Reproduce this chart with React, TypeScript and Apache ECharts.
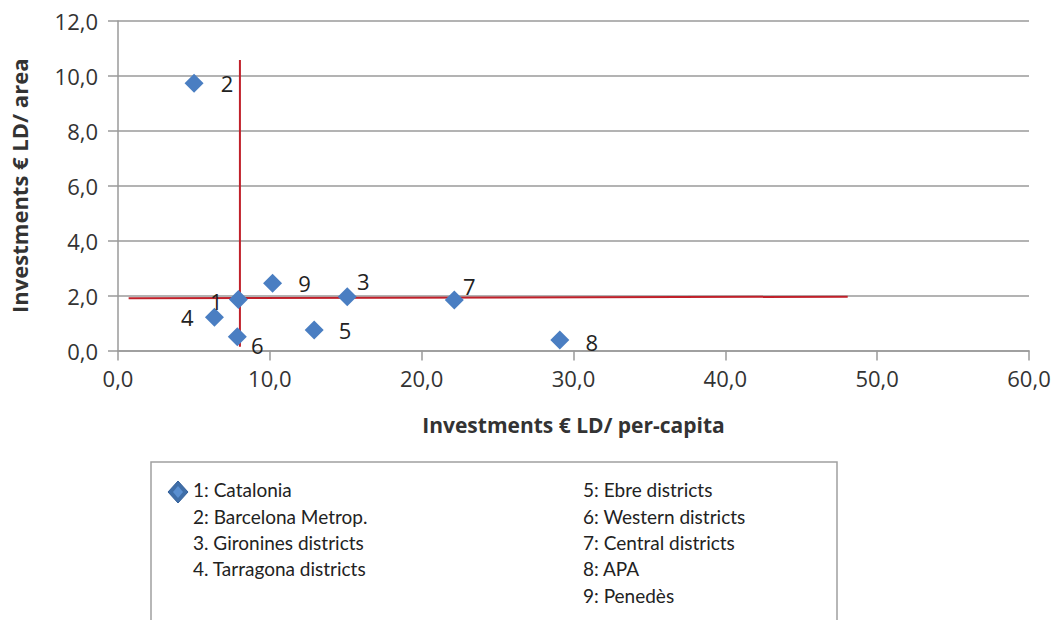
import React, { useEffect, useRef } from "react";
import * as echarts from "echarts";

const pointLabels = ["1", "2", "3", "4", "5", "6", "7", "8", "9"];
const xValues = [7.93, 5.01, 15.1, 6.35, 12.92, 7.86, 22.15, 29.1, 10.18];
const yValues = [1.86, 9.73, 1.96, 1.21, 0.75, 0.5, 1.84, 0.38, 2.45];
const labelOffsets = [[-22, 2], [33, 0], [16, -16], [-27, 0], [31, 0], [20, 8], [15, -14], [32, 2], [32, 0]];

const verticalLine = [[8.03, 0.14], [8.03, 10.58]];
const horizontalLine = [[0.7, 1.9], [48.06, 1.96]];

const legendCol1 = ["1: Catalonia", "2: Barcelona Metrop.", "3. Gironines districts", "4. Tarragona districts"];
const legendCol2 = ["5: Ebre districts", "6: Western districts", "7: Central districts", "8: APA", "9: Penedès"];

const fmt = (v: number) => v.toFixed(1).replace(".", ",");

export default function App() {
  const ref = useRef<HTMLDivElement>(null);
  useEffect(() => {
    document.body.style.margin = "0";
    const chart = echarts.init(ref.current!, null, { renderer: "svg" });
    const font = "'Open Sans', sans-serif";
    const legendFont = "Lato, sans-serif";
    const legendTexts: any[] = [];
    const rowY = [492, 519, 545, 571, 598];
    legendCol1.forEach((t, i) =>
      legendTexts.push({
        type: "text",
        left: 193,
        top: rowY[i] - 12,
        style: { text: t, font: `19px ${legendFont}`, fill: "#222" },
      })
    );
    legendCol2.forEach((t, i) =>
      legendTexts.push({
        type: "text",
        left: 583,
        top: rowY[i] - 12,
        style: { text: t, font: `19px ${legendFont}`, fill: "#222" },
      })
    );
    chart.setOption({
      animation: false,
      backgroundColor: "#fff",
      grid: { left: 116, right: 25, top: 21, bottom: 269.5 },
      xAxis: {
        type: "value",
        min: 0,
        max: 60,
        interval: 10,
        name: "Investments € LD/ per-capita",
        nameLocation: "middle",
        nameGap: 64,
        nameTextStyle: { fontFamily: font, fontSize: 21, fontWeight: "bold", color: "#333" },
        axisLine: { show: true, lineStyle: { color: "#9a9a9a", width: 1.5 } },
        axisTick: { show: true, length: 10, lineStyle: { color: "#9a9a9a", width: 1.5 } },
        axisLabel: { formatter: fmt, fontFamily: font, fontSize: 22, color: "#333", margin: 16 },
        splitLine: { show: false },
      },
      yAxis: {
        type: "value",
        min: 0,
        max: 12,
        interval: 2,
        name: "Investments € LD/ area",
        nameLocation: "middle",
        nameGap: 88,
        nameTextStyle: { fontFamily: font, fontSize: 22, fontWeight: "bold", color: "#333" },
        axisLine: { show: true, lineStyle: { color: "#9a9a9a", width: 1.5 } },
        axisTick: { show: true, length: 10, lineStyle: { color: "#9a9a9a", width: 1.5 } },
        axisLabel: { formatter: fmt, fontFamily: font, fontSize: 22, color: "#333", margin: 20 },
        splitLine: { show: true, lineStyle: { color: "#9a9a9a", width: 1.5 } },
      },
      series: [
        {
          type: "line",
          data: verticalLine,
          symbol: "none",
          lineStyle: { color: "#c0202a", width: 2 },
          z: 3,
        },
        {
          type: "line",
          data: horizontalLine,
          symbol: "none",
          lineStyle: { color: "#c0202a", width: 2 },
          z: 3,
        },
        {
          type: "scatter",
          symbol: "diamond",
          symbolSize: 19,
          itemStyle: { color: "#4a7ec2", opacity: 1 },
          z: 4,
          data: xValues.map((x, i) => ({
            value: [x, yValues[i]],
            label: {
              show: true,
              position: "inside",
              offset: labelOffsets[i],
              formatter: pointLabels[i],
              fontFamily: font,
              fontSize: 22,
              color: "#222",
            },
          })),
        },
      ],
      graphic: [
        {
          type: "rect",
          shape: { x: 151, y: 462, width: 686, height: 200 },
          style: { fill: "#fff", stroke: "#a0a0a0", lineWidth: 1.5 },
        },
        {
          type: "polygon",
          shape: { points: [[178, 481], [188, 492], [178, 503], [168, 492]] },
          style: { fill: "#3f6ea8", stroke: "#34609a", lineWidth: 1 },
        },
        {
          type: "polygon",
          shape: { points: [[178, 486], [183, 492], [178, 498], [173, 492]] },
          style: { fill: "#5a8fd0" },
        },
        ...legendTexts,
      ],
    });
    return () => chart.dispose();
  }, []);
  return <div ref={ref} style={{ width: 1054, height: 620 }} />;
}
